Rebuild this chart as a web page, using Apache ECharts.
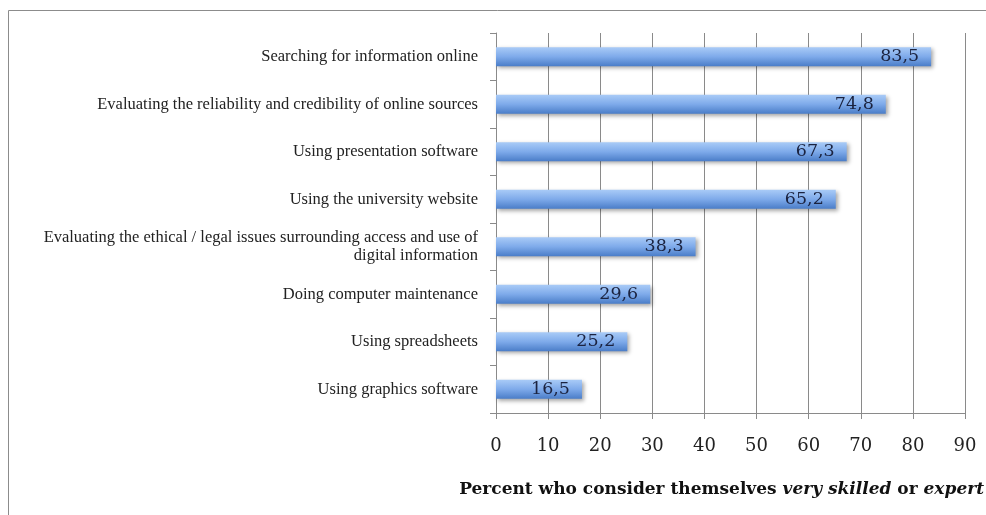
<!DOCTYPE html>
<html>
<head>
<meta charset="utf-8">
<script src="https://cdn.jsdelivr.net/npm/echarts@6/dist/echarts.min.js"></script>
<style>
  html, body { margin: 0; padding: 0; background: #fff; }
  #chart { width: 986px; height: 515px; }
</style>
</head>
<body>
<div id="chart"></div>
<script>
// bottom to top, as the category axis draws them
const categories = [
  "Using graphics software",
  "Using spreadsheets",
  "Doing computer maintenance",
  "Evaluating the ethical / legal issues surrounding access and use of\ndigital information",
  "Using the university website",
  "Using presentation software",
  "Evaluating the reliability and credibility of online sources",
  "Searching for information online"
];
const values = [16.5, 25.2, 29.6, 38.3, 65.2, 67.3, 74.8, 83.5];
const xTicks = { min: 0, max: 90, interval: 10 };

const serif = "'Liberation Serif', 'DejaVu Serif', serif";
const wideSerif = "'DejaVu Serif', serif";

const chart = echarts.init(document.getElementById("chart"));

chart.setOption({
  animation: false,
  grid: { left: 496, right: 21, top: 33, bottom: 102, containLabel: false },
  xAxis: {
    type: "value",
    min: xTicks.min,
    max: xTicks.max,
    interval: xTicks.interval,
    axisLine: { show: true, lineStyle: { color: "#8a8a8a", width: 1 } },
    axisTick: { show: true, length: 6, lineStyle: { color: "#8a8a8a" } },
    splitLine: { show: true, lineStyle: { color: "#8a8a8a", width: 1 } },
    axisLabel: { color: "#222", fontFamily: wideSerif, fontSize: 18, margin: 24 }
  },
  yAxis: {
    type: "category",
    data: categories,
    axisLine: { show: true, lineStyle: { color: "#8a8a8a", width: 1 } },
    axisTick: { show: true, length: 6, alignWithLabel: false, lineStyle: { color: "#8a8a8a" } },
    splitLine: { show: false },
    axisLabel: {
      color: "#222",
      fontFamily: serif,
      fontSize: 16.5,
      lineHeight: 18,
      margin: 18,
      align: "right"
    }
  },
  series: [
    {
      type: "bar",
      data: values,
      barWidth: "40%",
      itemStyle: {
        color: new echarts.graphic.LinearGradient(0, 0, 0, 1, [
          { offset: 0, color: "#a9cbf7" },
          { offset: 0.5, color: "#7eaaea" },
          { offset: 1, color: "#4a7dc8" }
        ]),
        shadowColor: "rgba(0,0,0,0.35)",
        shadowBlur: 4,
        shadowOffsetX: 2,
        shadowOffsetY: 2
      },
      label: {
        show: true,
        position: "insideRight",
        distance: 12,
        color: "#1b2340",
        fontFamily: wideSerif,
        fontSize: 17.5,
        formatter: (p) => String(p.value).replace(".", ",")
      }
    }
  ],
  graphic: [
    {
      type: "rect",
      silent: true,
      shape: { x: 8.5, y: 10.5, width: 1000, height: 540 },
      style: { fill: null, stroke: "#8c8c8c", lineWidth: 1 }
    },
    {
      type: "text",
      right: 2,
      top: 481,
      style: {
        text: "{b|Percent who consider themselves }{i|very skilled}{b| or }{i|expert}",
        rich: {
          b: { fontFamily: wideSerif, fontSize: 17, fontWeight: "bold", fill: "#111" },
          i: { fontFamily: wideSerif, fontSize: 17, fontWeight: "bold", fontStyle: "italic", fill: "#111" }
        }
      }
    }
  ]
});
</script>
</body>
</html>
